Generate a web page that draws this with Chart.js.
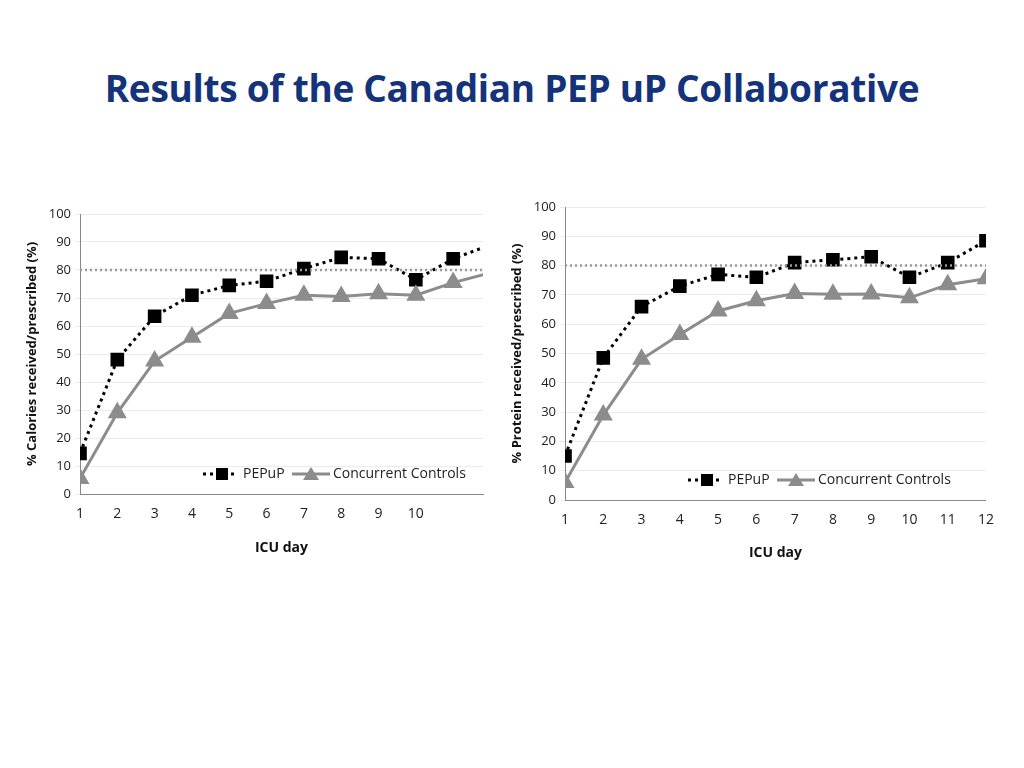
<!DOCTYPE html>
<html><head><meta charset="utf-8">
<script src="https://cdn.jsdelivr.net/npm/chart.js@4"></script>
<style>
body{margin:0;width:1024px;height:768px;background:#fff;position:relative;overflow:hidden;font-family:"Open Sans",sans-serif}
h1{position:absolute;top:62px;left:0;width:1024px;text-align:center;margin:0;font-size:37px;font-weight:bold;color:#14337a;letter-spacing:-0.3px}
.c{position:absolute}
</style></head><body>
<h1>Results of the Canadian PEP uP Collaborative</h1>
<div class="c" style="left:20px;top:200px;width:475px;height:360px"><canvas id="a"></canvas></div>
<div class="c" style="left:505px;top:195px;width:495px;height:370px"><canvas id="b"></canvas></div>
<script>
const days = [1,2,3,4,5,6,7,8,9,10,11,12];
const calPep = [14.5,48,63.5,71,74.5,76,80.5,84.5,84,76.5,84,89];
const calCtl = [5.5,29,47.5,56,64.5,68,71,70.5,71.5,71,75.5,79];
const proPep = [15,48.5,66,73,77,76,81,82,83,76,81,88.5];
const proCtl = [6,29,48,56.5,64.5,68,70.5,70.2,70.3,69,73.5,75.5];
const target = 80;
const labels = ['PEPuP','Concurrent Controls'];

const legendPlugin = {id:'lg', afterDatasetsDraw(ch){
  const c=ch.ctx, a=ch.chartArea, y=a.bottom-20, x0=a.left+123;
  c.save();
  c.strokeStyle='#000';c.lineWidth=3;c.setLineDash([3,4]);
  c.beginPath();c.moveTo(x0,y);c.lineTo(x0+32,y);c.stroke();c.setLineDash([]);
  c.fillStyle='#000';c.fillRect(x0+13,y-6,12,12);
  c.font='14px "Open Sans"';c.textBaseline='middle';c.fillStyle='#222';
  c.fillText(labels[0],x0+40,y);
  const x1=x0+89;
  c.strokeStyle='#8c8c8c';c.lineWidth=3;c.beginPath();c.moveTo(x1,y);c.lineTo(x1+38,y);c.stroke();
  c.fillStyle='#8c8c8c';c.beginPath();c.moveTo(x1+19,y-7);c.lineTo(x1+27,y+6);c.lineTo(x1+11,y+6);c.closePath();c.fill();
  c.fillStyle='#222';c.fillText(labels[1],x1+41,y);
  c.restore();
}};

function make(id, pep, ctl, xmax, ytitle, padTop, xh, lastHidden){
  const pts=a=>a.map((v,i)=>({x:days[i],y:v}));
  const rad=n=>days.map((d,i)=> (lastHidden && i===days.length-1)?0:n);
  new Chart(document.getElementById(id),{
    type:'line',
    data:{datasets:[
      {data:[{x:1,y:target},{x:12,y:target}],borderColor:'#999',borderWidth:2.5,borderDash:[2,3],pointRadius:0},
      {data:pts(ctl),borderColor:'#8c8c8c',backgroundColor:'#8c8c8c',borderWidth:3,pointStyle:'triangle',pointRadius:rad(8)},
      {data:pts(pep),borderColor:'#000',backgroundColor:'#000',borderWidth:3,borderDash:[3,4],pointStyle:'rect',pointRadius:rad(7.5)}
    ]},
    options:{responsive:true,maintainAspectRatio:false,animation:false,
      layout:{padding:{top:padTop,right:12}},
      plugins:{legend:{display:false},tooltip:{enabled:false}},
      scales:{
        x:{type:'linear',min:1,max:xmax,afterFit(s){s.height=xh;},
          grid:{display:false,drawTicks:true,tickLength:6,color:'#888'},border:{color:'#888'},
          ticks:{stepSize:1,autoSkip:false,padding:6,color:'#222',font:{size:14,family:'Open Sans'},callback:v=>v<=Math.floor(xmax)?v:''},
          title:{display:true,text:'ICU day',color:'#111',font:{size:14,weight:'bold',family:'Open Sans'},padding:{top:6}}},
        y:{min:0,max:100,afterFit(s){s.width=60;},
          grid:{color:'#ececec',tickLength:5},border:{color:'#888'},
          ticks:{stepSize:10,color:'#222',padding:4,font:{size:13,family:'Open Sans'}},
          title:{display:true,text:ytitle,color:'#111',font:{size:13,weight:'bold',family:'Open Sans'},padding:{bottom:2}}}
      }},
    plugins:[legendPlugin]
  });
}
make('a',calPep,calCtl,11.8,'% Calories received/prescribed (%)',14,66,true);
make('b',proPep,proCtl,12,'% Protein received/prescribed (%)',12,65,false);
</script></body></html>
